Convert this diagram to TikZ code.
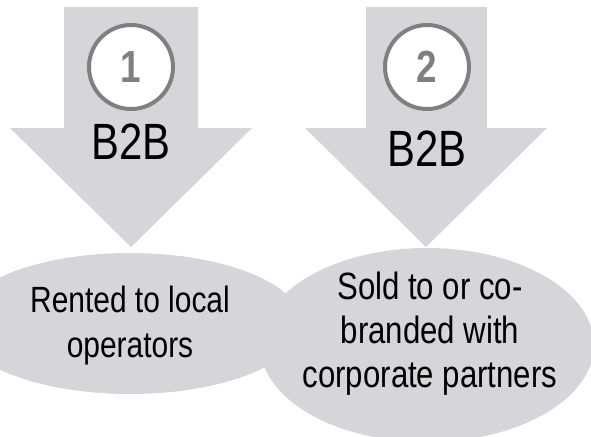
\documentclass[tikz,border=0pt]{standalone}
\usepackage{fontspec}
\usetikzlibrary{shapes.geometric}
\newfontfamily\narrowsans[FakeStretch=0.82]{Liberation Sans}
\definecolor{arrowgray}{RGB}{213,213,218}
\definecolor{ringgray}{RGB}{128,128,128}

\begin{document}
\begin{tikzpicture}[x=1pt,y=-1pt,
    blob/.style={ellipse,fill=arrowgray,inner sep=0pt},
    ring/.style={circle,draw=ringgray,line width=4pt,fill=white,minimum size=84pt,inner sep=0pt,
      text=ringgray,font=\narrowsans\bfseries\fontsize{45}{45}\selectfont},
    tag/.style={font=\narrowsans\fontsize{51}{51}\selectfont},
    caption/.style={align=center,font=\narrowsans\fontsize{36.5}{45}\selectfont}]
  \useasboundingbox (0,0) rectangle (591,436);
  % the two big arrows
  \fill[arrowgray] (64,7) -- (198,7) -- (198,128) -- (252,128) -- (131,247)
    -- (10,128) -- (64,128) -- cycle;
  \fill[arrowgray] (366,7) -- (487,7) -- (487,128) -- (547,128) -- (426,247)
    -- (305,128) -- (366,128) -- cycle;
  \node[ring] (r1) at (131,67) {1};
  \node[ring] (r2) at (427,67) {2};
  \node[tag] (t1) at (131,141.5) {B2B};
  \node[tag] (t2) at (427,148.5) {B2B};
  % the two outcomes
  \node[blob,minimum width=344pt,minimum height=141pt] (b1) at (130,323.5) {};
  \node[blob,minimum width=334pt,minimum height=194pt] (b2) at (427,345) {};
  \node[caption] (c1) at (b1.center) [yshift=-2.5pt] {Rented to local\\operators};
  \node[caption,font=\narrowsans\fontsize{38}{44}\selectfont] (c2) at (430,334)
    {Sold to or co-\\branded with\\corporate partners};
\end{tikzpicture}
\end{document}
